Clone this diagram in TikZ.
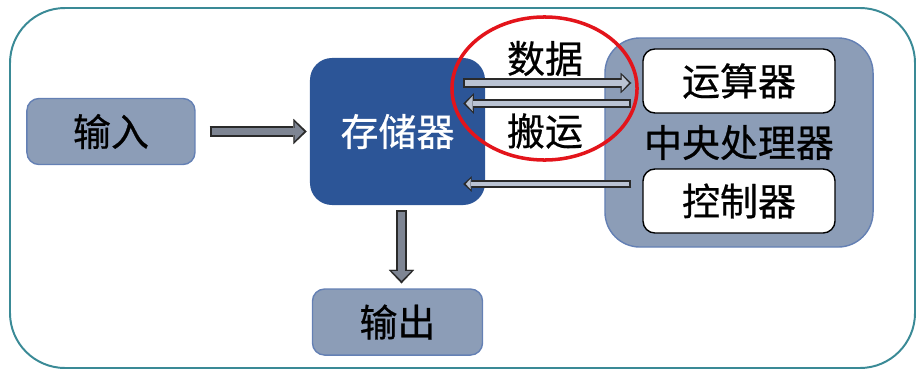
\documentclass[tikz,border=0pt]{standalone}
\usepackage{fontspec}
\newfontfamily\cjk{Noto Sans CJK SC}[FakeBold=0.6]
\usetikzlibrary{positioning,arrows.meta,shapes.geometric}
\definecolor{frameTeal}{HTML}{3A8A96}
\definecolor{blockFill}{HTML}{8C9DB7}
\definecolor{blockEdge}{HTML}{6480B4}
\definecolor{storeBlue}{HTML}{2C5597}
\definecolor{arrowDark}{HTML}{2A2A2A}
\definecolor{arrowGray}{HTML}{7E8593}
\definecolor{arrowLight}{HTML}{BAC3D3}
\definecolor{ringRed}{HTML}{E3141B}

\tikzset{
  cjktext/.style={font=\cjk\fontsize{27}{32}\selectfont},
  bigarrow/.style={draw=arrowDark, line width=8.4pt,
    -{Triangle[length=9.5pt,width=18pt,line width=0.01pt]},
    postaction={draw=arrowGray, line width=5.6pt,
      -{Triangle[length=6.6pt,width=13.2pt,line width=0.01pt]},
      shorten >=2pt, shorten <=1.4pt}},
  slimarrow/.style n args={4}{draw=arrowDark, line width=#1,
    -{Triangle[length=#3,width=#4,line width=0.01pt]},
    postaction={draw=arrowLight, line width=#2,
      -{Triangle[length=#3-2.6pt,width=#4-3.8pt,line width=0.01pt]},
      shorten >=1.8pt, shorten <=1.3pt}}
}

\begin{document}
\begin{tikzpicture}[x=0.025cm, y=0.025cm, every node/.style={cjktext, inner sep=0pt}]
  \useasboundingbox (0,0) rectangle (919,371);
  \draw[frameTeal, line width=1.4pt, rounded corners=1.375cm] (10,3) rectangle (915,363);

  \node[fill=storeBlue, text=white, rounded corners=0.55cm, minimum width=4.375cm, minimum height=3.675cm] (store) at (397.5,239.5) {存储器};
  \node[draw=blockEdge, fill=blockFill, line width=1pt, rounded corners=0.3cm, minimum width=4.2cm, minimum height=1.65cm, left=2.85cm of store] (in) {输入};
  \node[draw=blockEdge, fill=blockFill, line width=1pt, rounded corners=0.3cm, minimum width=4.25cm, minimum height=1.65cm, below=2.075cm of store] (out) {输出};

  \node[draw=blockEdge, fill=blockFill, line width=1pt, rounded corners=0.875cm, minimum width=6.7cm, minimum height=5.225cm] (cpu) at (739,228.5) {中央处理器};
  \node[draw=black, fill=white, line width=1pt, rounded corners=0.3cm, minimum width=4.8cm, minimum height=1.6cm, below=0.275cm of cpu.north] (alu) {运算器};
  \node[draw=black, fill=white, line width=1pt, rounded corners=0.3cm, minimum width=4.8cm, minimum height=1.6cm, above=0.35cm of cpu.south] (ctrl) {控制器};

  \coordinate (busTop) at ([shift={(-22,48.5)}]store.east);
  \coordinate (busLow) at ([shift={(-22,28)}]store.east);
  \coordinate (busCtl) at ([shift={(-22,-52.5)}]store.east);

  \draw[bigarrow] ([xshift=0.35cm]in.east) -- ([xshift=-0.075cm]in.east -| store.west);
  \draw[bigarrow] ([shift={(4,-5)}]store.south) -- ([shift={(4,5)}]store.south |- out.north);
  \draw[slimarrow={6.8pt}{4pt}{7.5pt}{14.5pt}] (busTop) -- ([xshift=0.675cm]busTop -| cpu.west);
  \draw[slimarrow={6.8pt}{4pt}{7.5pt}{14.5pt}] ([xshift=0.675cm]busLow -| cpu.west) -- (busLow);
  \draw[slimarrow={5.4pt}{2.8pt}{6pt}{11pt}] ([xshift=0.675cm]busCtl -| cpu.west) -- (busCtl);

  \node (lblData) at (545,312.5) {数据};
  \node (lblMove) at (545,240) {搬运};
  \node[ellipse, draw=ringRed, line width=2.5pt, minimum width=4.625cm, minimum height=3.575cm] (ring) at (544.5,282.5) {};
\end{tikzpicture}
\end{document}
